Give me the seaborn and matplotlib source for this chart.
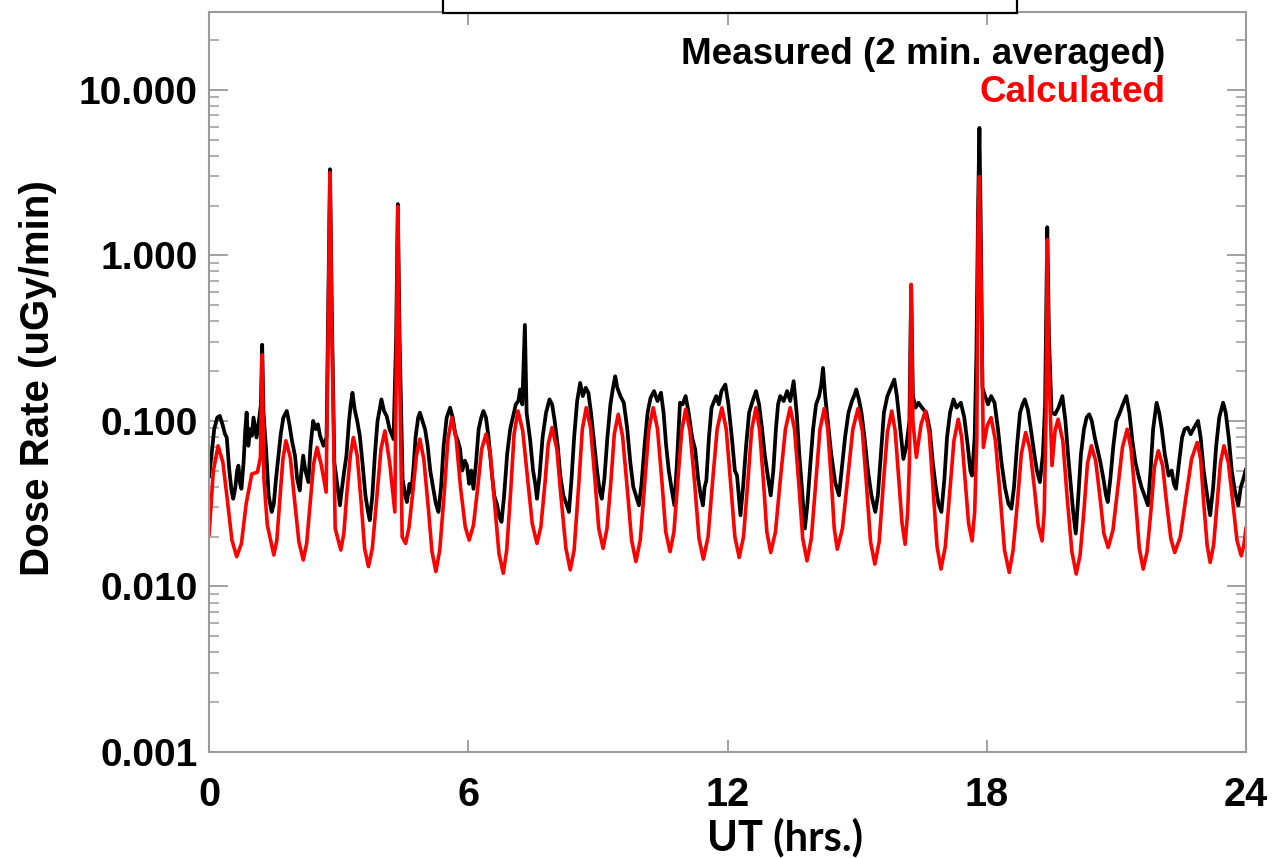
import numpy as np
import pandas as pd
import matplotlib
matplotlib.use("Agg")
import matplotlib.pyplot as plt
import seaborn as sns
from matplotlib.patches import Rectangle
from matplotlib.ticker import FixedLocator, LogLocator, NullFormatter, NullLocator

# ------------------------------------------------
# Data (hours UT, log10 of dose rate in uGy/min)
# ------------------------------------------------
meas_hours = [
    0.00, 0.06, 0.12, 0.19, 0.25, 0.31, 0.37, 0.41, 0.47, 0.52, 0.56, 0.61, 0.65, 0.68, 0.72, 0.75,
    0.80, 0.84, 0.87, 0.91, 0.95, 0.99, 1.03, 1.06, 1.10, 1.16, 1.20, 1.23, 1.26, 1.32, 1.38, 1.45,
    1.50, 1.55, 1.60, 1.66, 1.72, 1.80, 1.86, 1.92, 1.99, 2.04, 2.10, 2.14, 2.18, 2.23, 2.30, 2.35,
    2.41, 2.47, 2.52, 2.57, 2.65, 2.72, 2.76, 2.80, 2.84, 2.90, 2.96, 3.03, 3.08, 3.13, 3.18, 3.24,
    3.28, 3.32, 3.37, 3.43, 3.49, 3.55, 3.62, 3.68, 3.72, 3.78, 3.84, 3.90, 3.95, 3.99, 4.05, 4.11,
    4.18, 4.27, 4.33, 4.37, 4.41, 4.48, 4.54, 4.58, 4.64, 4.68, 4.73, 4.78, 4.84, 4.88, 4.94, 5.00,
    5.06, 5.12, 5.19, 5.25, 5.31, 5.37, 5.43, 5.50, 5.58, 5.64, 5.70, 5.76, 5.81, 5.86, 5.92, 5.97,
    6.02, 6.07, 6.12, 6.18, 6.24, 6.30, 6.35, 6.41, 6.47, 6.54, 6.60, 6.66, 6.72, 6.77, 6.83, 6.90,
    6.97, 7.04, 7.10, 7.16, 7.20, 7.25, 7.31, 7.35, 7.43, 7.50, 7.55, 7.59, 7.65, 7.72, 7.80, 7.88,
    7.94, 8.00, 8.07, 8.13, 8.20, 8.27, 8.33, 8.39, 8.45, 8.52, 8.59, 8.65, 8.72, 8.78, 8.84, 8.92,
    8.98, 9.04, 9.09, 9.15, 9.22, 9.29, 9.35, 9.40, 9.45, 9.52, 9.60, 9.68, 9.75, 9.82, 9.88, 9.95,
    10.01, 10.08, 10.15, 10.22, 10.30, 10.38, 10.46, 10.52, 10.58, 10.64, 10.70, 10.77, 10.83, 10.90,
    10.96, 11.03, 11.10, 11.18, 11.25, 11.32, 11.38, 11.43, 11.47, 11.51, 11.57, 11.63, 11.69, 11.74,
    11.80, 11.86, 11.95, 12.02, 12.10, 12.17, 12.22, 12.26, 12.30, 12.36, 12.43, 12.50, 12.58, 12.66,
    12.73, 12.80, 12.86, 12.92, 13.00, 13.06, 13.12, 13.17, 13.22, 13.30, 13.38, 13.45, 13.53, 13.60,
    13.66, 13.72, 13.79, 13.85, 13.92, 13.98, 14.05, 14.12, 14.17, 14.21, 14.26, 14.32, 14.40, 14.49,
    14.58, 14.64, 14.72, 14.80, 14.88, 14.93, 14.98, 15.04, 15.10, 15.17, 15.25, 15.33, 15.42, 15.48,
    15.55, 15.62, 15.70, 15.78, 15.86, 15.92, 16.00, 16.07, 16.14, 16.21, 16.25, 16.29, 16.35, 16.42,
    16.50, 16.60, 16.68, 16.75, 16.82, 16.88, 16.95, 17.02, 17.08, 17.15, 17.23, 17.30, 17.40, 17.48,
    17.56, 17.62, 17.66, 17.72, 17.76, 17.80, 17.83, 17.86, 17.90, 17.96, 18.03, 18.10, 18.18, 18.26,
    18.34, 18.42, 18.50, 18.57, 18.63, 18.70, 18.77, 18.83, 18.88, 18.95, 19.02, 19.10, 19.16, 19.23,
    19.30, 19.35, 19.40, 19.44, 19.50, 19.58, 19.66, 19.75, 19.82, 19.88, 19.95, 20.00, 20.06, 20.12,
    20.18, 20.25, 20.31, 20.37, 20.43, 20.50, 20.57, 20.63, 20.70, 20.76, 20.80, 20.86, 20.93, 21.00,
    21.08, 21.15, 21.23, 21.30, 21.37, 21.44, 21.51, 21.58, 21.65, 21.73, 21.79, 21.85, 21.93, 21.99,
    22.05, 22.12, 22.21, 22.28, 22.33, 22.38, 22.45, 22.52, 22.58, 22.65, 22.72, 22.80, 22.89, 22.95,
    23.02, 23.10, 23.17, 23.24, 23.31, 23.38, 23.44, 23.47, 23.53, 23.60, 23.67, 23.74, 23.82, 23.88,
    23.94, 24.00,
]
meas_log10 = [
    -1.34, -1.20, -1.05, -0.98, -0.97, -1.02, -1.08, -1.10, -1.30, -1.42, -1.47, -1.40, -1.30, -1.27, -1.38, -1.41,
    -1.25, -1.05, -0.95, -1.15, -1.05, -1.09, -0.98, -1.03, -1.10, -0.99, -0.90, -0.54, -0.95, -1.17, -1.45, -1.55,
    -1.50, -1.35, -1.23, -1.08, -0.98, -0.94, -1.02, -1.12, -1.21, -1.35, -1.42, -1.30, -1.21, -1.30, -1.37, -1.15,
    -1.00, -1.05, -1.02, -1.09, -1.15, -1.10, -0.30, 0.52, -0.30, -1.25, -1.37, -1.51, -1.40, -1.30, -1.21, -1.00,
    -0.90, -0.83, -0.93, -1.00, -1.09, -1.25, -1.45, -1.55, -1.60, -1.45, -1.20, -1.00, -0.93, -0.87, -0.94, -0.97,
    -1.05, -1.11, -0.50, 0.31, -0.50, -1.35, -1.45, -1.49, -1.38, -1.43, -1.29, -1.10, -0.98, -0.95, -1.00, -1.05,
    -1.15, -1.30, -1.41, -1.50, -1.55, -1.40, -1.15, -0.98, -0.92, -0.98, -1.08, -1.12, -1.17, -1.30, -1.24, -1.27,
    -1.38, -1.30, -1.41, -1.25, -1.05, -0.98, -0.94, -0.98, -1.10, -1.30, -1.45, -1.50, -1.58, -1.61, -1.45, -1.20,
    -1.05, -0.97, -0.90, -0.88, -0.81, -0.90, -0.42, -0.95, -1.11, -1.30, -1.38, -1.47, -1.33, -1.10, -0.95, -0.87,
    -0.90, -1.00, -1.15, -1.33, -1.45, -1.50, -1.55, -1.35, -1.10, -0.88, -0.77, -0.85, -0.80, -0.83, -0.95, -1.15,
    -1.30, -1.42, -1.47, -1.35, -1.10, -0.90, -0.80, -0.73, -0.80, -0.85, -0.89, -1.05, -1.25, -1.40, -1.45, -1.51,
    -1.38, -1.15, -0.95, -0.86, -0.82, -0.88, -0.83, -0.95, -1.15, -1.30, -1.40, -1.51, -1.25, -0.89,
    -0.90, -0.85, -0.95, -1.10, -1.17, -1.35, -1.45, -1.51, -1.40, -1.36, -1.10, -0.92, -0.88, -0.85,
    -0.90, -0.82, -0.78, -0.90, -1.10, -1.30, -1.33, -1.45, -1.57, -1.40, -1.15, -0.95, -0.88, -0.82,
    -0.90, -1.05, -1.20, -1.31, -1.45, -1.30, -1.05, -0.90, -0.85, -0.88, -0.82, -0.88, -0.76, -0.95,
    -1.20, -1.40, -1.65, -1.50, -1.25, -1.05, -0.90, -0.85, -0.78, -0.68, -0.85, -1.00, -1.20, -1.37,
    -1.45, -1.30, -1.10, -0.95, -0.88, -0.85, -0.81, -0.87, -0.95, -1.10, -1.30, -1.45, -1.55, -1.45,
    -1.20, -0.95, -0.85, -0.80, -0.75, -0.85, -1.05, -1.23, -1.15, -1.00, -0.18, -0.85, -0.92, -0.89,
    -0.92, -0.95, -1.05, -1.25, -1.40, -1.50, -1.55, -1.35, -1.10, -0.95, -0.87, -0.92, -0.89, -0.98,
    -1.15, -1.30, -1.33, -1.10, -0.60, 0.30, 0.77, 0.20, -0.80, -0.85, -0.90, -0.85, -0.89, -1.05,
    -1.25, -1.40, -1.50, -1.53, -1.40, -1.15, -0.95, -0.90, -0.87, -0.93, -1.05, -1.20, -1.30, -1.37,
    -1.20, -0.90, 0.17, -0.50, -0.95, -0.96, -0.92, -0.85, -1.00, -1.20, -1.40, -1.55, -1.68, -1.45,
    -1.20, -1.05, -0.98, -0.96, -1.00, -1.10, -1.18, -1.25, -1.35, -1.45, -1.49, -1.35, -1.15, -1.00,
    -0.95, -0.90, -0.85, -0.95, -1.12, -1.25, -1.33, -1.40, -1.45, -1.51, -1.30, -1.05, -0.89, -0.95,
    -1.05, -1.20, -1.33, -1.30, -1.38, -1.41, -1.25, -1.10, -1.05, -1.04, -1.08, -1.04, -1.00, -1.10,
    -1.30, -1.45, -1.57, -1.40, -1.15, -0.98, -0.92, -0.89, -0.95, -1.10, -1.30, -1.42, -1.51, -1.40,
    -1.35, -1.29,
]

calc_hours = [
    0.00, 0.10, 0.21, 0.32, 0.43, 0.53, 0.64, 0.75, 0.86, 0.99, 1.12, 1.19, 1.23, 1.27, 1.35, 1.50,
    1.57, 1.64, 1.71, 1.78, 1.88, 1.98, 2.08, 2.18, 2.26, 2.34, 2.42, 2.50, 2.60, 2.71, 2.76, 2.80,
    2.84, 2.92, 3.05, 3.12, 3.19, 3.27, 3.34, 3.43, 3.52, 3.60, 3.69, 3.78, 3.88, 3.98, 4.07, 4.18,
    4.30, 4.34, 4.37, 4.40, 4.47, 4.55, 4.63, 4.72, 4.80, 4.88, 4.97, 5.07, 5.16, 5.25, 5.34, 5.44,
    5.53, 5.62, 5.72, 5.82, 5.93, 6.02, 6.12, 6.22, 6.31, 6.41, 6.51, 6.61, 6.71, 6.81, 6.89, 6.98,
    7.06, 7.15, 7.26, 7.37, 7.48, 7.59, 7.68, 7.77, 7.85, 7.94, 8.05, 8.15, 8.26, 8.36, 8.45, 8.55,
    8.64, 8.73, 8.83, 8.93, 9.02, 9.12, 9.21, 9.30, 9.38, 9.47, 9.57, 9.68, 9.78, 9.88, 9.98, 10.08,
    10.18, 10.28, 10.38, 10.48, 10.57, 10.67, 10.76, 10.85, 10.94, 11.03, 11.13, 11.24, 11.34, 11.44,
    11.55, 11.65, 11.76, 11.87, 11.97, 12.07, 12.17, 12.27, 12.37, 12.47, 12.56, 12.66, 12.74, 12.83,
    12.91, 13.00, 13.11, 13.22, 13.34, 13.45, 13.55, 13.65, 13.74, 13.84, 13.94, 14.04, 14.14, 14.24,
    14.32, 14.40, 14.47, 14.54, 14.66, 14.78, 14.90, 15.02, 15.12, 15.22, 15.31, 15.41, 15.51, 15.60,
    15.70, 15.80, 15.88, 15.96, 16.04, 16.11, 16.17, 16.21, 16.25, 16.29, 16.37, 16.48, 16.58, 16.67,
    16.76, 16.85, 16.94, 17.04, 17.14, 17.24, 17.34, 17.42, 17.50, 17.58, 17.66, 17.72, 17.77, 17.80,
    17.83, 17.86, 17.92, 18.01, 18.10, 18.20, 18.31, 18.41, 18.52, 18.61, 18.71, 18.80, 18.90, 19.00,
    19.10, 19.19, 19.28, 19.33, 19.37, 19.40, 19.44, 19.51, 19.58, 19.65, 19.76, 19.86, 19.97, 20.07,
    20.16, 20.25, 20.33, 20.42, 20.52, 20.62, 20.71, 20.81, 20.92, 21.03, 21.14, 21.25, 21.34, 21.44,
    21.53, 21.62, 21.71, 21.80, 21.88, 21.97, 22.07, 22.16, 22.26, 22.35, 22.48, 22.61, 22.74, 22.87,
    22.95, 23.02, 23.10, 23.17, 23.25, 23.33, 23.41, 23.49, 23.59, 23.69, 23.79, 23.89, 23.95, 24.00,
]
calc_log10 = [
    -1.69, -1.30, -1.15, -1.25, -1.49, -1.72, -1.82, -1.74, -1.50, -1.32, -1.31, -1.22, -0.60, -1.35, -1.63, -1.81,
    -1.72, -1.47, -1.23, -1.12, -1.22, -1.48, -1.73, -1.84, -1.74, -1.50, -1.26, -1.16, -1.27, -1.43, -0.40, 0.50,
    -0.40, -1.65, -1.78, -1.68, -1.44, -1.21, -1.10, -1.21, -1.49, -1.77, -1.88, -1.77, -1.47, -1.17, -1.06, -1.25,
    -1.55, -0.50, 0.295, -0.50, -1.70, -1.74, -1.64, -1.42, -1.21, -1.11, -1.23, -1.51, -1.79, -1.91, -1.78, -1.45,
    -1.11, -0.98, -1.11, -1.40, -1.64, -1.72, -1.63, -1.40, -1.17, -1.08, -1.20, -1.50, -1.80, -1.92, -1.78, -1.43,
    -1.08, -0.94, -1.06, -1.34, -1.62, -1.74, -1.64, -1.39, -1.14, -1.04, -1.17, -1.47, -1.77, -1.90, -1.78, -1.41,
    -1.05, -0.92, -1.04, -1.35, -1.65, -1.77, -1.65, -1.37, -1.08, -0.96, -1.09, -1.41, -1.72, -1.85, -1.72, -1.39,
    -1.05, -0.92, -1.05, -1.36, -1.67, -1.79, -1.67, -1.36, -1.06, -0.93, -1.06, -1.38, -1.71, -1.835,
    -1.70, -1.38, -1.05, -0.92, -1.05, -1.37, -1.70, -1.825, -1.70, -1.37, -1.05, -0.92, -1.05, -1.36,
    -1.67, -1.795, -1.67, -1.36, -1.05, -0.92, -1.05, -1.38, -1.71, -1.845, -1.71, -1.38, -1.05, -0.925,
    -1.05, -1.35, -1.65, -1.775, -1.65, -1.35, -1.05, -0.925, -1.06, -1.40, -1.73, -1.865, -1.73, -1.40,
    -1.07, -0.94, -1.06, -1.34, -1.62, -1.745, -1.55, -1.25, -0.175, -1.00, -1.22, -1.02, -0.94, -1.08,
    -1.42, -1.76, -1.895, -1.76, -1.44, -1.12, -0.99, -1.10, -1.36, -1.62, -1.725, -1.55, -1.10, 0.20,
    0.476, 0.00, -1.16, -1.03, -0.98, -1.12, -1.45, -1.78, -1.915, -1.78, -1.49, -1.20, -1.07, -1.17,
    -1.40, -1.63, -1.725, -1.55, -1.00, 0.096, -0.70, -1.27, -1.06, -0.99, -1.12, -1.46, -1.79, -1.925,
    -1.81, -1.54, -1.26, -1.15, -1.24, -1.46, -1.68, -1.765, -1.66, -1.41, -1.16, -1.05, -1.17, -1.47,
    -1.77, -1.895, -1.79, -1.54, -1.28, -1.18, -1.27, -1.49, -1.71, -1.795, -1.70, -1.46, -1.23, -1.13,
    -1.23, -1.49, -1.75, -1.855, -1.75, -1.50, -1.25, -1.15, -1.25, -1.48, -1.72, -1.815, -1.75, -1.645,
]

x_ticks = [0, 6, 12, 18, 24]
y_ticks = [0.001, 0.01, 0.1, 1.0, 10.0]
y_tick_labels = ["0.001", "0.010", "0.100", "1.000", "10.000"]

measured = pd.DataFrame({"hour": meas_hours, "dose": np.power(10.0, meas_log10)})
calculated = pd.DataFrame({"hour": calc_hours, "dose": np.power(10.0, calc_log10)})

# ------------------------------------------------
# Draw
# ------------------------------------------------
sns.set_style("ticks")
plt.rcParams["font.family"] = ["Liberation Sans", "DejaVu Sans"]
plt.rcParams["text.color"] = "black"

fig = plt.figure(figsize=(12.73, 8.58), dpi=100)
ax = fig.add_axes([0.1642, 0.1235, 0.8146, 0.8625])

sns.lineplot(data=measured, x="hour", y="dose", color="black", linewidth=2.7,
             estimator=None, sort=False, ax=ax)
sns.lineplot(data=calculated, x="hour", y="dose", color="#ff0000", linewidth=2.6,
             estimator=None, sort=False, ax=ax)

ax.set_yscale("log")
ax.set_xlim(0, 24)
ax.set_ylim(0.001, 29.5)
ax.set_xlabel("")
ax.set_ylabel("")

ax.set_xticks(x_ticks)
ax.set_xticklabels([str(t) for t in x_ticks], fontsize=28.5, fontweight="bold")
ax.xaxis.set_minor_locator(NullLocator())
ax.yaxis.set_major_locator(FixedLocator(y_ticks))
ax.set_yticklabels(y_tick_labels, fontsize=28, fontweight="bold")
ax.yaxis.set_minor_locator(LogLocator(base=10, subs=np.arange(2, 10), numticks=20))
ax.yaxis.set_minor_formatter(NullFormatter())

grey = "#9a9a9a"
ax.tick_params(which="both", direction="in", top=True, right=True, color=grey,
               labelcolor="black")
ax.tick_params(axis="y", which="major", length=14, width=1.3, pad=8)
ax.tick_params(axis="y", which="minor", length=7, width=1.1)
ax.tick_params(axis="x", which="major", length=9, width=1.3, pad=17)
for spine in ax.spines.values():
    spine.set_color(grey)
    spine.set_linewidth(1.5)

# Axis titles
fig.text(0.030, 0.559, "Dose Rate (uGy/min)", rotation=90, ha="center", va="center",
         fontsize=29, fontweight="bold", color="black")
fig.text(0.617, 0.024, "UT (hrs.)", ha="center", va="center", fontsize=30,
         fontweight="bold", color="black", family=["Lato", "DejaVu Sans"])

# Legend text
fig.text(0.9152, 0.936, "Measured (2 min. averaged)", ha="right", va="center",
         fontsize=26.5, fontweight="bold", color="black")
fig.text(0.9152, 0.892, "Calculated", ha="right", va="center",
         fontsize=26.5, fontweight="bold", color="#ff0000")

# Box cut off at the top edge
fig.add_artist(Rectangle((443 / 1273, 1 - 12.7 / 858), (1017 - 443) / 1273, 0.1,
                         transform=fig.transFigure, facecolor="white",
                         edgecolor="black", linewidth=1.6, zorder=5))

fig.savefig("out.png", dpi=100)
